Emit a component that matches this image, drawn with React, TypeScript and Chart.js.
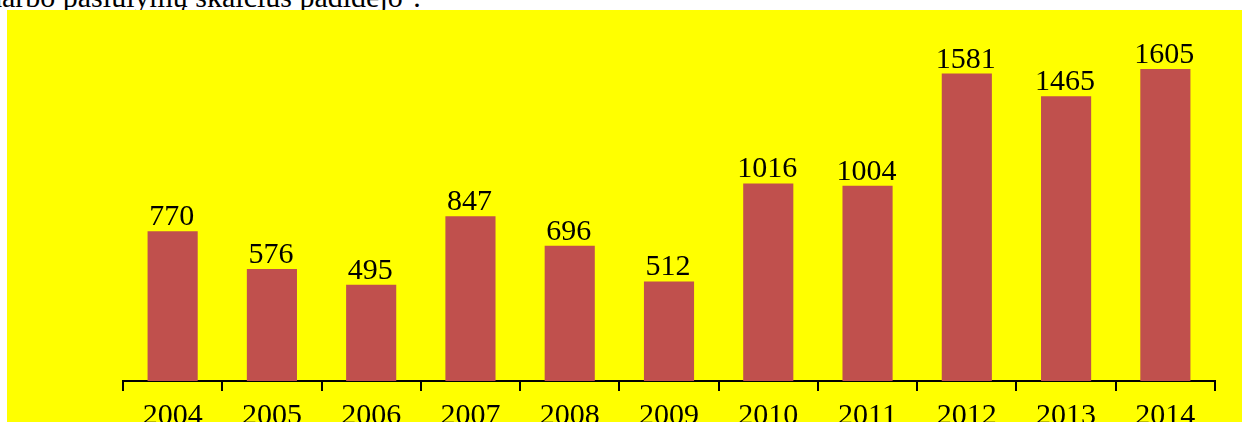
import React, { useEffect, useRef } from "react";
import { Chart, registerables } from "chart.js";

Chart.register(...registerables);

const years = ["2004", "2005", "2006", "2007", "2008", "2009", "2010", "2011", "2012", "2013", "2014"];
const offers = [770, 576, 495, 847, 696, 512, 1016, 1004, 1581, 1465, 1605];
const headingText = "darbo pasiūlymų skaičius padidėjo⁴.";

const FONT = "'Liberation Serif', 'Times New Roman', serif";

const valueLabels = {
  id: "valueLabels",
  afterDatasetsDraw(chart: any) {
    const ctx = chart.ctx;
    const meta = chart.getDatasetMeta(0);
    const data = chart.data.datasets[0].data as number[];
    ctx.save();
    ctx.fillStyle = "#000000";
    ctx.font = `30px ${FONT}`;
    ctx.textAlign = "center";
    ctx.textBaseline = "alphabetic";
    meta.data.forEach((bar: any, i: number) => {
      ctx.fillText(String(data[i]), bar.x - 1, bar.y - 6);
    });
    ctx.restore();
  },
};

export default function App() {
  const canvasRef = useRef<HTMLCanvasElement | null>(null);

  useEffect(() => {
    if (!canvasRef.current) return;
    const chart = new Chart(canvasRef.current, {
      type: "bar",
      data: {
        labels: years,
        datasets: [
          {
            data: offers,
            backgroundColor: "#C0504D",
            borderWidth: 0,
            barPercentage: 0.505,
            categoryPercentage: 1,
          },
        ],
      },
      options: {
        responsive: false,
        animation: false,
        devicePixelRatio: 1,
        layout: { padding: { left: 123, right: 28, top: 31, bottom: 0 } },
        plugins: {
          legend: { display: false },
          tooltip: { enabled: false },
        },
        scales: {
          x: {
            grid: {
              display: true,
              offset: true,
              drawOnChartArea: false,
              drawTicks: true,
              tickLength: 10,
              color: "#000000",
              lineWidth: 2,
            },
            border: { display: true, color: "#000000", width: 2 },
            ticks: {
              color: "#000000",
              font: { family: FONT, size: 30 },
              padding: 7,
              maxRotation: 0,
              autoSkip: false,
            },
          },
          y: {
            display: false,
            min: 0,
            max: 1800,
          },
        },
      },
      plugins: [valueLabels],
    });
    return () => chart.destroy();
  }, []);

  return (
    <div
      style={{
        position: "fixed",
        left: 0,
        top: 0,
        width: 1243,
        height: 422,
        overflow: "hidden",
        background: "#ffffff",
      }}
    >
      <div
        style={{
          position: "absolute",
          left: -13,
          top: -18,
          fontFamily: FONT,
          fontSize: 30,
          lineHeight: "30px",
          whiteSpace: "nowrap",
          color: "#000",
        }}
      >
        {headingText}
      </div>
      <div
        style={{
          position: "absolute",
          left: 7,
          top: 10,
          width: 1235,
          height: 420,
          background: "#FFFF00",
        }}
      />
      <canvas
        ref={canvasRef}
        width={1243}
        height={441}
        style={{ position: "absolute", left: 0, top: 0, width: 1243, height: 441 }}
      />
    </div>
  );
}
